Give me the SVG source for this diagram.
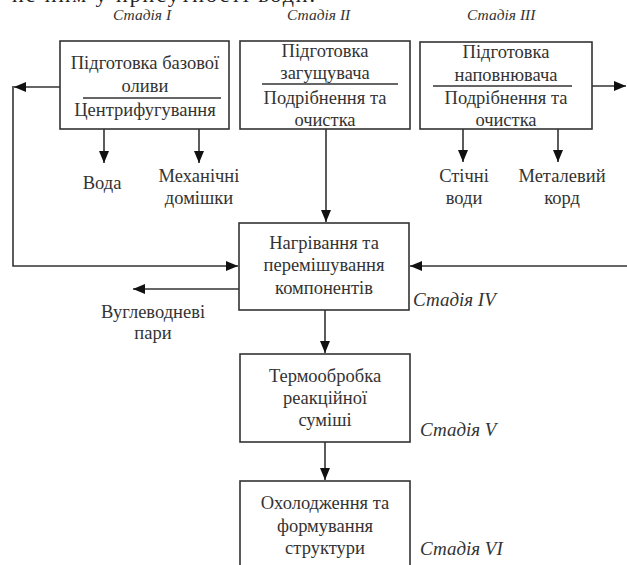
<svg xmlns="http://www.w3.org/2000/svg" width="627" height="565" viewBox="0 0 627 565">
<defs>
<marker id="ah" markerUnits="userSpaceOnUse" markerWidth="13" markerHeight="11" refX="12" refY="5" orient="auto">
<path d="M0,0 L12,5 L0,10 Z" fill="#111"/>
</marker>
<style>
.box{fill:#fff;stroke:#333;stroke-width:1.6}
.t{font-family:"Liberation Serif","Times New Roman",serif;font-size:18.5px;fill:#333;text-anchor:middle;dominant-baseline:central}
.st{font-family:"Liberation Serif","Times New Roman",serif;font-size:15.5px;font-style:italic;fill:#333;dominant-baseline:central}
.sb{font-family:"Liberation Serif","Times New Roman",serif;font-size:19px;font-style:italic;fill:#333;dominant-baseline:central}
.c{fill:none;stroke:#333;stroke-width:1.6}
.dv{stroke:#333;stroke-width:1.4}
</style>
</defs>
<rect width="627" height="565" fill="#fff"/>
<text x="12" y="2" font-family="Liberation Serif, serif" font-size="22" fill="#222" textLength="303">не ним у присутності води.</text>
<g id="stages">
<text class="st" x="113" y="14">Стадія I</text>
<text class="st" x="287" y="14">Стадія II</text>
<text class="st" x="467" y="14">Стадія III</text>
<text class="sb" x="413" y="299">Стадія IV</text>
<text class="sb" x="420" y="429">Стадія V</text>
<text class="sb" x="420" y="548">Стадія VI</text>
</g>
<g id="n1">
<rect class="box" x="60" y="41" width="169" height="88"/>
<text class="t" x="145" y="63">Підготовка базової</text>
<text class="t" x="145" y="86">оливи</text>
<line class="dv" x1="83" y1="98" x2="221" y2="98"/>
<text class="t" x="145" y="110">Центрифугування</text>
</g>
<g id="n2">
<rect class="box" x="240" y="41" width="170" height="88"/>
<text class="t" x="325" y="51">Підготовка</text>
<text class="t" x="325" y="73">загущувача</text>
<line class="dv" x1="262" y1="84" x2="398" y2="84"/>
<text class="t" x="325" y="98">Подрібнення та</text>
<text class="t" x="325" y="120">очистка</text>
</g>
<g id="n3">
<rect class="box" x="420" y="42" width="172" height="87"/>
<text class="t" x="506" y="52">Підготовка</text>
<text class="t" x="506" y="75">наповнювача</text>
<line class="dv" x1="433" y1="86" x2="572" y2="86"/>
<text class="t" x="506" y="98">Подрібнення та</text>
<text class="t" x="506" y="120">очистка</text>
</g>
<g id="n4">
<rect class="box" x="239" y="223" width="170" height="87"/>
<text class="t" x="324" y="243">Нагрівання та</text>
<text class="t" x="324" y="265">перемішування</text>
<text class="t" x="324" y="288">компонентів</text>
</g>
<g id="n5">
<rect class="box" x="240" y="354" width="170" height="88"/>
<text class="t" x="325" y="376">Термообробка</text>
<text class="t" x="325" y="398">реакційної</text>
<text class="t" x="325" y="420">суміші</text>
</g>
<g id="n6">
<rect class="box" x="240" y="481" width="170" height="100"/>
<text class="t" x="325" y="503">Охолодження та</text>
<text class="t" x="325" y="526">формування</text>
<text class="t" x="325" y="548">структури</text>
</g>
<g id="outputs">
<text class="t" x="102" y="183">Вода</text>
<text class="t" x="199" y="176">Механічні</text>
<text class="t" x="199" y="198">домішки</text>
<text class="t" x="464" y="176">Стічні</text>
<text class="t" x="464" y="198">води</text>
<text class="t" x="562" y="176">Металевий</text>
<text class="t" x="562" y="198">корд</text>
<text class="t" x="153" y="312">Вуглеводневі</text>
<text class="t" x="153" y="333">пари</text>
</g>
<g id="connectors">
<path class="c" d="M60,87 H14" marker-end="url(#ah)"/>
<path class="c" d="M13,86 V266 H238" marker-end="url(#ah)"/>
<path class="c" d="M592,86 H626" marker-end="url(#ah)"/>
<path class="c" d="M627,266 H410" marker-end="url(#ah)"/>
<path class="c" d="M326,129 V222" marker-end="url(#ah)"/>
<path class="c" d="M325,310 V353" marker-end="url(#ah)"/>
<path class="c" d="M325,442 V480" marker-end="url(#ah)"/>
<path class="c" d="M239,289 H133" marker-end="url(#ah)"/>
<path class="c" d="M104,129 V163" marker-end="url(#ah)"/>
<path class="c" d="M199,129 V163" marker-end="url(#ah)"/>
<path class="c" d="M463,129 V162" marker-end="url(#ah)"/>
<path class="c" d="M558,129 V162" marker-end="url(#ah)"/>
</g>
</svg>
